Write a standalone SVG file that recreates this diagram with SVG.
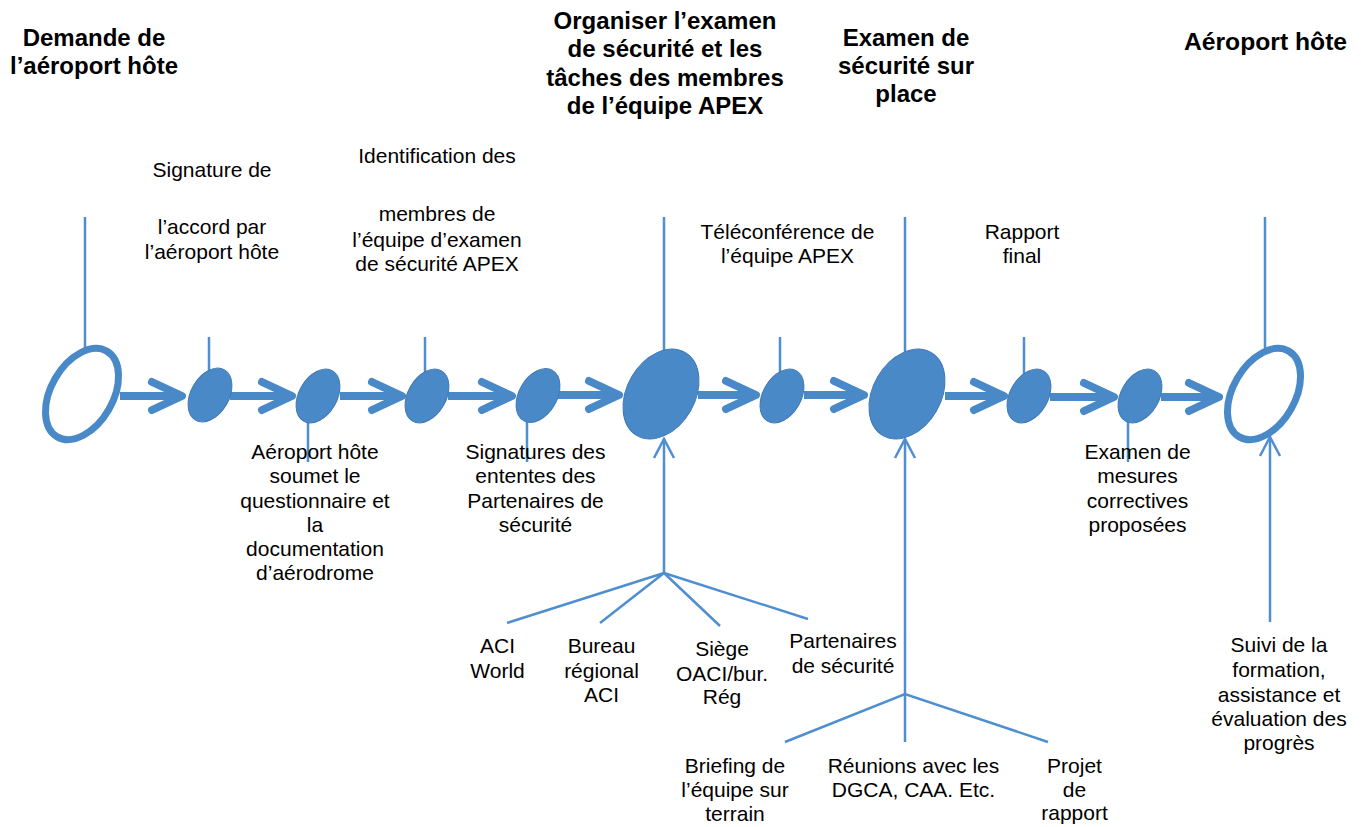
<svg xmlns="http://www.w3.org/2000/svg" width="1364" height="827" viewBox="0 0 1364 827">
<style>
  text { font-family: "Liberation Sans", Arial, sans-serif; fill: #000; text-anchor: middle; }
  .t { font-size: 21px; }
  .b { font-size: 24px; font-weight: bold; }
  .thin { fill: none; stroke: #4f8fd0; stroke-width: 2.5; }
  .thick { fill: none; stroke: #4a89c8; stroke-width: 8; }
  .fill { fill: #4a89c8; stroke: #3f78b4; stroke-width: 1; }
  .ring { fill: #fff; stroke: #4a89c8; stroke-width: 7; }
</style>
<defs>
  <marker id="chev" markerUnits="userSpaceOnUse" orient="auto" overflow="visible" refX="0" refY="0" markerWidth="1" markerHeight="1">
    <path d="M-30,-14 L0,0 L-30,14" fill="none" stroke="#4a89c8" stroke-width="8" stroke-linecap="round" stroke-linejoin="round"/>
  </marker>
  <marker id="up" markerUnits="userSpaceOnUse" orient="auto" overflow="visible" refX="0" refY="0" markerWidth="1" markerHeight="1">
    <path d="M-19,-10 L0,0 L-19,10" fill="none" stroke="#4f8fd0" stroke-width="2.5"/>
  </marker>
</defs>
<rect width="1364" height="827" fill="#fff"/>

<g id="connectors">
  <path class="thick" d="M120,396 L182,396" marker-end="url(#chev)"/>
  <path class="thick" d="M230,396 L292,396" marker-end="url(#chev)"/>
  <path class="thick" d="M340,396 L402,396" marker-end="url(#chev)"/>
  <path class="thick" d="M448,396 L512,396" marker-end="url(#chev)"/>
  <path class="thick" d="M558,395 L619,395" marker-end="url(#chev)"/>
  <path class="thick" d="M698,395 L756,395" marker-end="url(#chev)"/>
  <path class="thick" d="M804,395 L864,395" marker-end="url(#chev)"/>
  <path class="thick" d="M945,396 L1004,396" marker-end="url(#chev)"/>
  <path class="thick" d="M1050,397 L1114,397" marker-end="url(#chev)"/>
  <path class="thick" d="M1161,397 L1219,397" marker-end="url(#chev)"/>
  <path class="thin" d="M85,217 L85,356"/>
  <path class="thin" d="M209,337 L209,380"/>
  <path class="thin" d="M308,410 L308,462"/>
  <path class="thin" d="M425,337 L425,380"/>
  <path class="thin" d="M527,410 L527,462"/>
  <path class="thin" d="M664,217 L664,370"/>
  <path class="thin" d="M780,337 L780,380"/>
  <path class="thin" d="M905,217 L905,370"/>
  <path class="thin" d="M1024,337 L1024,380"/>
  <path class="thin" d="M1128,410 L1128,462"/>
  <path class="thin" d="M1265,217 L1265,349"/>
  <path class="thin" d="M664,573 L664,439" marker-end="url(#up)"/>
  <path class="thin" d="M905,742 L905,439" marker-end="url(#up)"/>
  <path class="thin" d="M1270,622 L1270,437" marker-end="url(#up)"/>
  <path class="thin" d="M507,623 L664,573 L600,623 M664,573 L720,626 M664,573 L808,619"/>
  <path class="thin" d="M785,742 L905,694 L1048,742"/>
</g>

<g id="node-demande">
  <ellipse class="ring" cx="82" cy="394" rx="49.5" ry="31" transform="rotate(-60 82 394)"/>
  <text class="b" x="94" y="46">Demande de</text>
  <text class="b" x="94" y="74">l’aéroport hôte</text>
</g>
<g id="node-signature">
  <ellipse class="fill" cx="210" cy="395" rx="29" ry="19" transform="rotate(-60 210 395)"/>
  <text class="t" x="212" y="177">Signature de</text>
  <text class="t" x="212" y="234">l’accord par</text>
  <text class="t" x="212" y="259">l’aéroport hôte</text>
</g>
<g id="node-questionnaire">
  <ellipse class="fill" cx="318" cy="396" rx="29" ry="19" transform="rotate(-60 318 396)"/>
  <text class="t" x="315" y="459">Aéroport hôte</text>
  <text class="t" x="315" y="483">soumet le</text>
  <text class="t" x="315" y="508">questionnaire et</text>
  <text class="t" x="315" y="532">la</text>
  <text class="t" x="315" y="556">documentation</text>
  <text class="t" x="315" y="580">d’aérodrome</text>
</g>
<g id="node-identification">
  <ellipse class="fill" cx="427" cy="396" rx="29" ry="19" transform="rotate(-60 427 396)"/>
  <text class="t" x="437" y="163">Identification des</text>
  <text class="t" x="437" y="221">membres de</text>
  <text class="t" x="437" y="246.5">l’équipe d’examen</text>
  <text class="t" x="437" y="271">de sécurité APEX</text>
</g>
<g id="node-ententes">
  <ellipse class="fill" cx="538" cy="395.5" rx="29" ry="19" transform="rotate(-60 538 395.5)"/>
  <text class="t" x="535.5" y="459">Signatures des</text>
  <text class="t" x="535.5" y="483">ententes des</text>
  <text class="t" x="535.5" y="508">Partenaires de</text>
  <text class="t" x="535.5" y="532">sécurité</text>
</g>
<g id="node-organiser">
  <ellipse class="fill" cx="661" cy="394" rx="48" ry="34" transform="rotate(-60 661 394)"/>
  <text class="b" x="665" y="28.5">Organiser l’examen</text>
  <text class="b" x="665" y="57">de sécurité et les</text>
  <text class="b" x="665" y="85.5">tâches des membres</text>
  <text class="b" x="665" y="114">de l’équipe APEX</text>
</g>
<g id="node-teleconference">
  <ellipse class="fill" cx="782" cy="396" rx="29" ry="19" transform="rotate(-60 782 396)"/>
  <text class="t" x="787.5" y="239">Téléconférence de</text>
  <text class="t" x="787.5" y="263">l’équipe APEX</text>
</g>
<g id="node-examen">
  <ellipse class="fill" cx="907" cy="394" rx="48" ry="34" transform="rotate(-60 907 394)"/>
  <text class="b" x="906" y="46">Examen de</text>
  <text class="b" x="906" y="74">sécurité sur</text>
  <text class="b" x="906" y="102">place</text>
</g>
<g id="node-rapport">
  <ellipse class="fill" cx="1029" cy="396" rx="29" ry="19" transform="rotate(-60 1029 396)"/>
  <text class="t" x="1022" y="239">Rapport</text>
  <text class="t" x="1022" y="263">final</text>
</g>
<g id="node-mesures">
  <ellipse class="fill" cx="1140" cy="396" rx="29" ry="19" transform="rotate(-60 1140 396)"/>
  <text class="t" x="1137.5" y="459">Examen de</text>
  <text class="t" x="1137.5" y="483">mesures</text>
  <text class="t" x="1137.5" y="508">correctives</text>
  <text class="t" x="1137.5" y="532">proposées</text>
</g>
<g id="node-aeroport">
  <ellipse class="ring" cx="1264" cy="394" rx="49.5" ry="31" transform="rotate(-60 1264 394)"/>
  <text class="b" x="1265.5" y="50" style="font-size:24.7px">Aéroport hôte</text>
</g>

<g id="node-aci-world">
  <text class="t" x="497.5" y="653">ACI</text>
  <text class="t" x="497.5" y="678">World</text>
</g>
<g id="node-bureau">
  <text class="t" x="601.5" y="653">Bureau</text>
  <text class="t" x="601.5" y="678">régional</text>
  <text class="t" x="601.5" y="702">ACI</text>
</g>
<g id="node-siege">
  <text class="t" x="722" y="656">Siège</text>
  <text class="t" x="722" y="681">OACI/bur.</text>
  <text class="t" x="722" y="704">Rég</text>
</g>
<g id="node-partenaires">
  <text class="t" x="843" y="648">Partenaires</text>
  <text class="t" x="843" y="673">de sécurité</text>
</g>
<g id="node-briefing">
  <text class="t" x="735" y="773">Briefing de</text>
  <text class="t" x="735" y="797">l’équipe sur</text>
  <text class="t" x="735" y="821">terrain</text>
</g>
<g id="node-reunions">
  <text class="t" x="913.5" y="773">Réunions avec les</text>
  <text class="t" x="913.5" y="797">DGCA, CAA. Etc.</text>
</g>
<g id="node-projet">
  <text class="t" x="1074.5" y="773">Projet</text>
  <text class="t" x="1074.5" y="797">de</text>
  <text class="t" x="1074.5" y="820">rapport</text>
</g>
<g id="node-suivi">
  <text class="t" x="1279" y="652">Suivi de la</text>
  <text class="t" x="1279" y="677">formation,</text>
  <text class="t" x="1279" y="702">assistance et</text>
  <text class="t" x="1279" y="726">évaluation des</text>
  <text class="t" x="1279" y="750">progrès</text>
</g>
</svg>
